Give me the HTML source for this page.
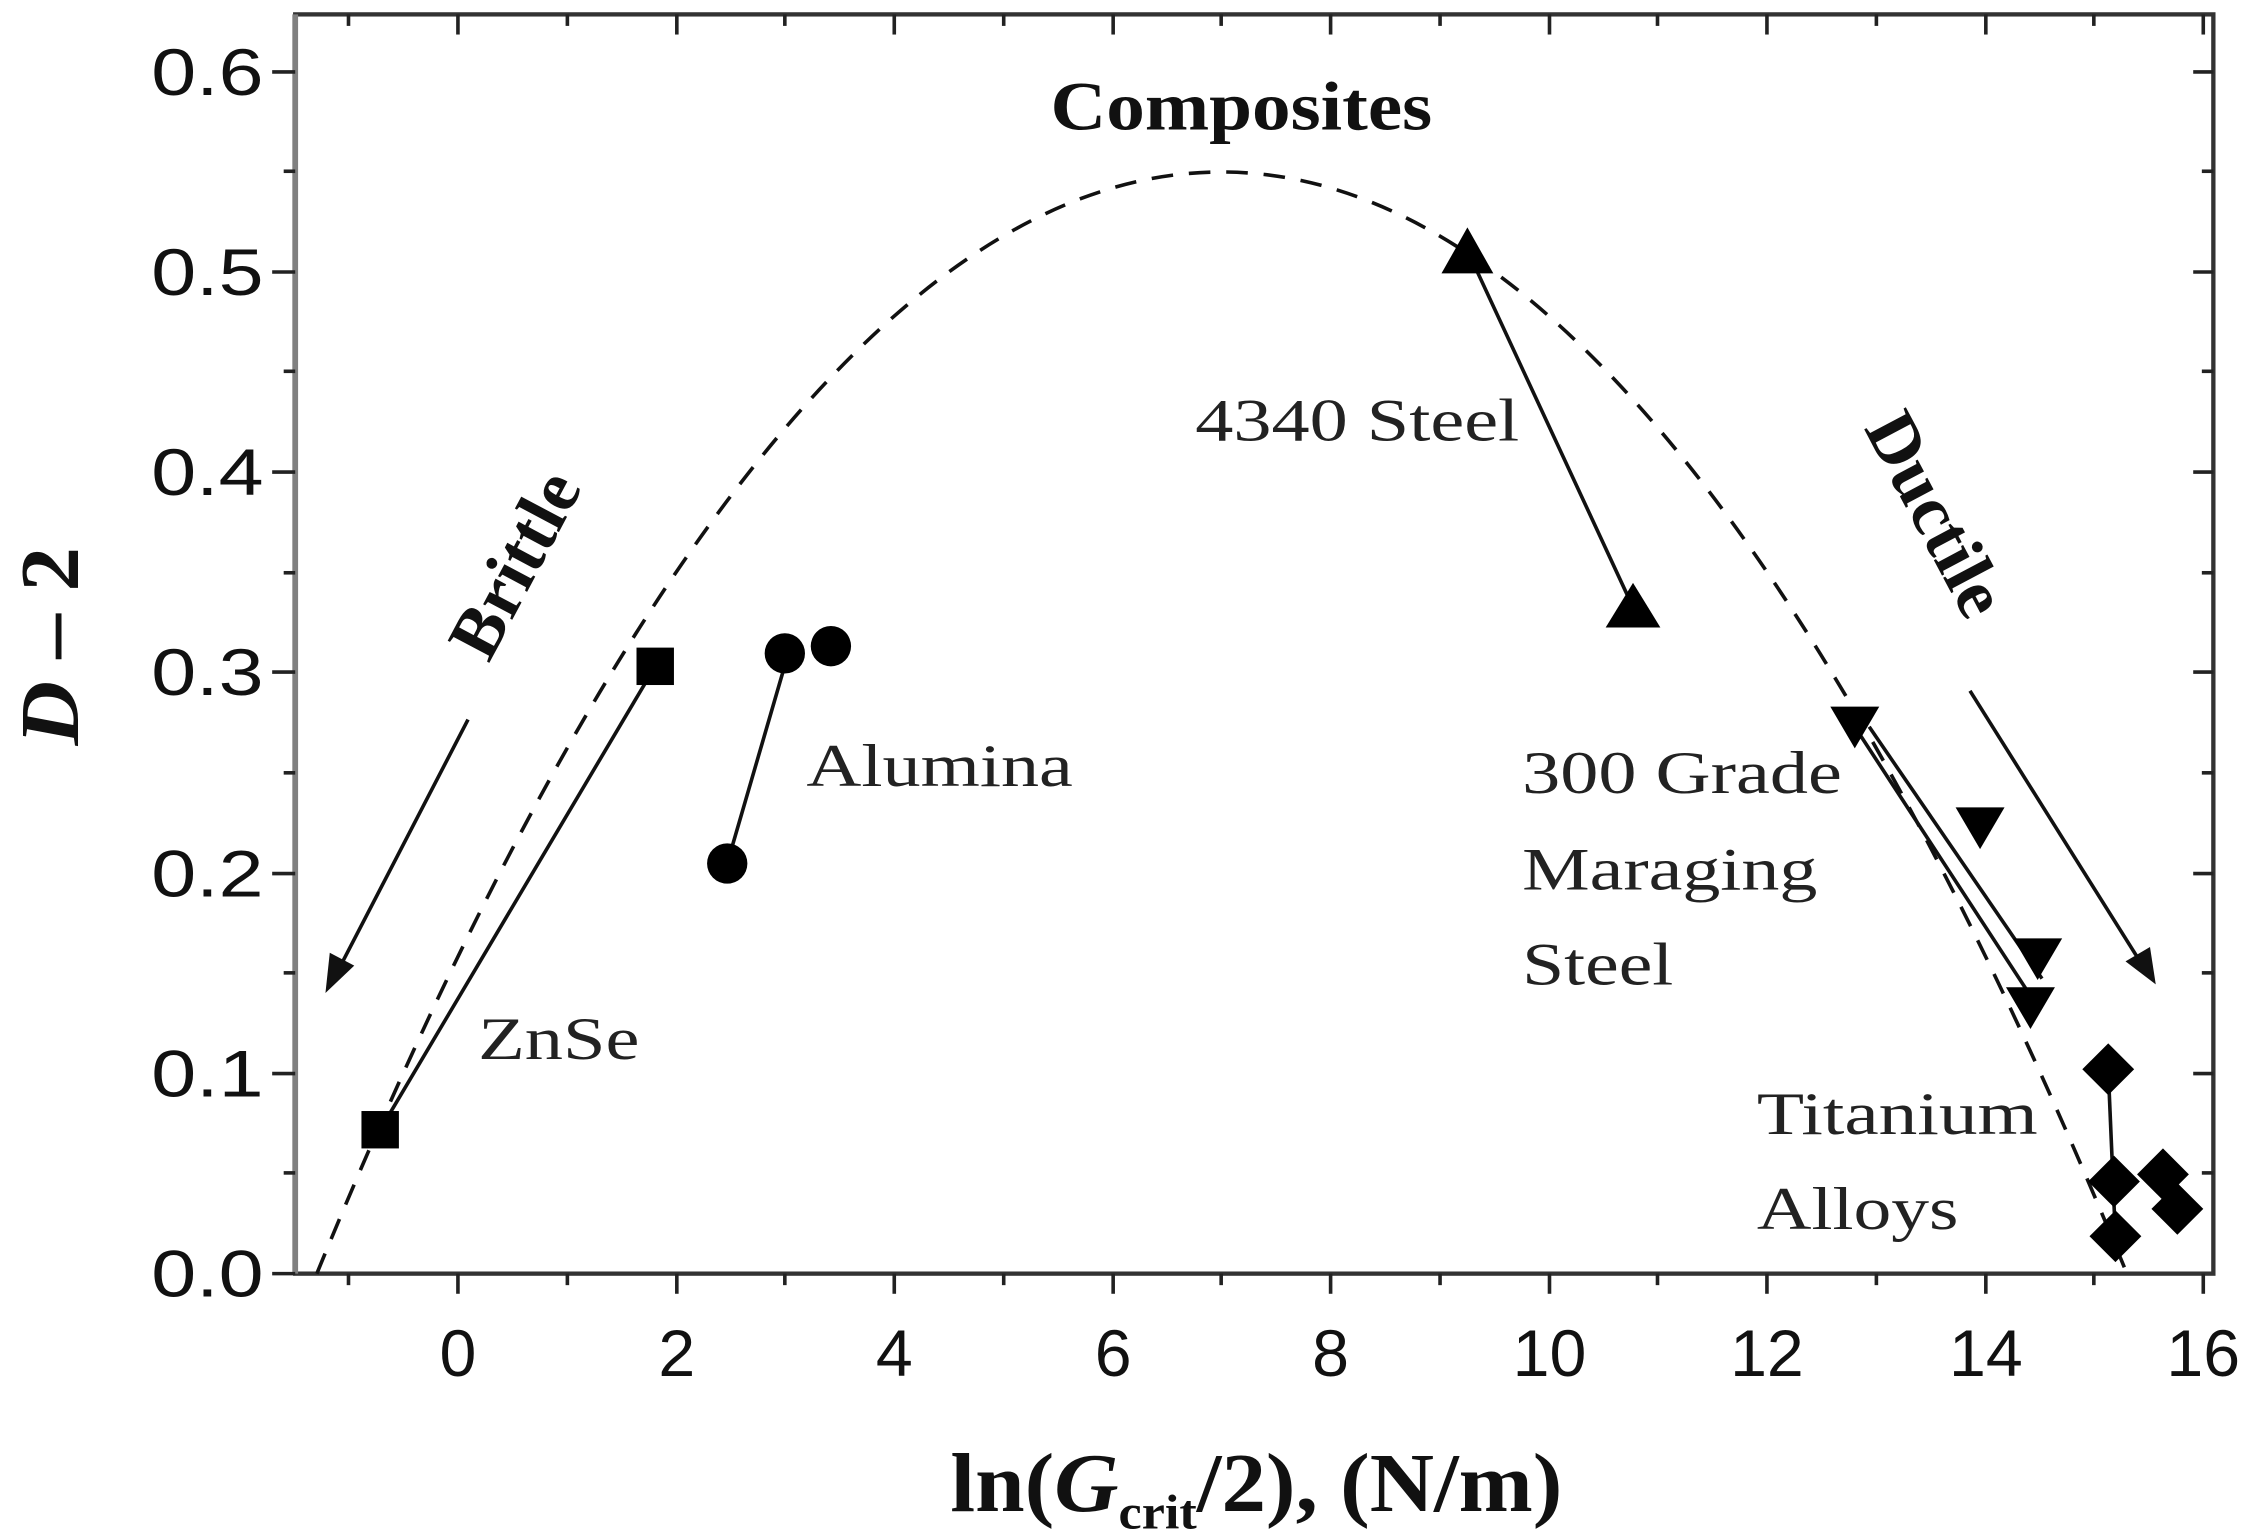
<!DOCTYPE html>
<html><head><meta charset="utf-8"><style>
html,body{margin:0;padding:0;background:#fff;}
svg{display:block;}
</style></head><body>
<svg width="2258" height="1537" viewBox="0 0 1568 1068" preserveAspectRatio="none" xmlns="http://www.w3.org/2000/svg">
<rect width="1568" height="1068" fill="#fff"/>
<rect x="205" y="10" width="1332" height="875" fill="none" stroke="#333" stroke-width="3"/>
<line x1="205" y1="10" x2="205" y2="885" stroke="#808080" stroke-width="4"/>
<g stroke="#222" stroke-width="2.5">
<line x1="318" y1="885" x2="318" y2="899"/><line x1="470" y1="885" x2="470" y2="899"/><line x1="621" y1="885" x2="621" y2="899"/><line x1="773" y1="885" x2="773" y2="899"/><line x1="924" y1="885" x2="924" y2="899"/><line x1="1076" y1="885" x2="1076" y2="899"/><line x1="1227" y1="885" x2="1227" y2="899"/><line x1="1379" y1="885" x2="1379" y2="899"/><line x1="1530" y1="885" x2="1530" y2="899"/>
<line x1="242" y1="885" x2="242" y2="893"/><line x1="394" y1="885" x2="394" y2="893"/><line x1="545" y1="885" x2="545" y2="893"/><line x1="697" y1="885" x2="697" y2="893"/><line x1="848" y1="885" x2="848" y2="893"/><line x1="1000" y1="885" x2="1000" y2="893"/><line x1="1151" y1="885" x2="1151" y2="893"/><line x1="1303" y1="885" x2="1303" y2="893"/><line x1="1454" y1="885" x2="1454" y2="893"/>
<line x1="318" y1="10" x2="318" y2="24"/><line x1="470" y1="10" x2="470" y2="24"/><line x1="621" y1="10" x2="621" y2="24"/><line x1="773" y1="10" x2="773" y2="24"/><line x1="924" y1="10" x2="924" y2="24"/><line x1="1076" y1="10" x2="1076" y2="24"/><line x1="1227" y1="10" x2="1227" y2="24"/><line x1="1379" y1="10" x2="1379" y2="24"/><line x1="1530" y1="10" x2="1530" y2="24"/>
<line x1="242" y1="10" x2="242" y2="18"/><line x1="394" y1="10" x2="394" y2="18"/><line x1="545" y1="10" x2="545" y2="18"/><line x1="697" y1="10" x2="697" y2="18"/><line x1="848" y1="10" x2="848" y2="18"/><line x1="1000" y1="10" x2="1000" y2="18"/><line x1="1151" y1="10" x2="1151" y2="18"/><line x1="1303" y1="10" x2="1303" y2="18"/><line x1="1454" y1="10" x2="1454" y2="18"/>
<line x1="189" y1="885" x2="205" y2="885"/><line x1="189" y1="746" x2="205" y2="746"/><line x1="189" y1="607" x2="205" y2="607"/><line x1="189" y1="467" x2="205" y2="467"/><line x1="189" y1="328" x2="205" y2="328"/><line x1="189" y1="189" x2="205" y2="189"/><line x1="189" y1="50" x2="205" y2="50"/>
<line x1="197" y1="815" x2="205" y2="815"/><line x1="197" y1="676" x2="205" y2="676"/><line x1="197" y1="537" x2="205" y2="537"/><line x1="197" y1="398" x2="205" y2="398"/><line x1="197" y1="258" x2="205" y2="258"/><line x1="197" y1="119" x2="205" y2="119"/>
<line x1="1523" y1="746" x2="1537" y2="746"/><line x1="1523" y1="607" x2="1537" y2="607"/><line x1="1523" y1="467" x2="1537" y2="467"/><line x1="1523" y1="328" x2="1537" y2="328"/><line x1="1523" y1="189" x2="1537" y2="189"/><line x1="1523" y1="50" x2="1537" y2="50"/>
<line x1="1529" y1="815" x2="1537" y2="815"/><line x1="1529" y1="676" x2="1537" y2="676"/><line x1="1529" y1="537" x2="1537" y2="537"/><line x1="1529" y1="398" x2="1537" y2="398"/><line x1="1529" y1="258" x2="1537" y2="258"/><line x1="1529" y1="119" x2="1537" y2="119"/>
</g>
<g font-family="'Liberation Sans', sans-serif" font-size="46" fill="#111" text-anchor="end">
<text x="183" y="901" textLength="78" lengthAdjust="spacingAndGlyphs">0.0</text>
<text x="183" y="762" textLength="78" lengthAdjust="spacingAndGlyphs">0.1</text>
<text x="183" y="623" textLength="78" lengthAdjust="spacingAndGlyphs">0.2</text>
<text x="183" y="483" textLength="78" lengthAdjust="spacingAndGlyphs">0.3</text>
<text x="183" y="344" textLength="78" lengthAdjust="spacingAndGlyphs">0.4</text>
<text x="183" y="205" textLength="78" lengthAdjust="spacingAndGlyphs">0.5</text>
<text x="183" y="66" textLength="78" lengthAdjust="spacingAndGlyphs">0.6</text>
</g>
<g font-family="'Liberation Sans', sans-serif" font-size="46" fill="#111" text-anchor="middle">
<text x="318" y="956">0</text><text x="470" y="956">2</text><text x="621" y="956">4</text><text x="773" y="956">6</text><text x="924" y="956">8</text><text x="1076" y="956">10</text><text x="1227" y="956">12</text><text x="1379" y="956">14</text><text x="1530" y="956">16</text>
</g>
<text x="660" y="1050" font-family="'Liberation Serif', serif" font-weight="bold" font-size="58" fill="#111" textLength="425" lengthAdjust="spacingAndGlyphs">ln(<tspan font-style="italic">G</tspan><tspan font-size="34" dy="12">crit</tspan><tspan dy="-12">/2), (N/m)</tspan></text>
<text transform="translate(54,518) rotate(-90)" font-family="'Liberation Serif', serif" font-weight="bold" font-size="58" fill="#111" textLength="138" lengthAdjust="spacingAndGlyphs"><tspan font-style="italic">D</tspan> – 2</text>
<path d="M220,885 Q848,-646 1477,885" fill="none" stroke="#111" stroke-width="2.5" stroke-dasharray="15,11"/>
<text x="862" y="90" text-anchor="middle" font-family="'Liberation Serif', serif" font-weight="bold" font-size="48" fill="#111" textLength="265" lengthAdjust="spacingAndGlyphs">Composites</text>
<text transform="translate(372,400) rotate(-62)" text-anchor="middle" font-family="'Liberation Serif', serif" font-weight="bold" font-size="50" fill="#111">Brittle</text>
<text transform="translate(1330,365) rotate(62)" text-anchor="middle" font-family="'Liberation Serif', serif" font-weight="bold" font-size="50" fill="#111">Ductile</text>
<g font-family="'Liberation Serif', serif" font-size="42" fill="#222">
<text x="830" y="306" textLength="225" lengthAdjust="spacingAndGlyphs">4340 Steel</text>
<text x="560" y="546" textLength="185" lengthAdjust="spacingAndGlyphs">Alumina</text>
<text x="332" y="736" textLength="112" lengthAdjust="spacingAndGlyphs">ZnSe</text>
<text x="1057" y="551" textLength="222" lengthAdjust="spacingAndGlyphs">300 Grade</text>
<text x="1057" y="618" textLength="205" lengthAdjust="spacingAndGlyphs">Maraging</text>
<text x="1057" y="684" textLength="105" lengthAdjust="spacingAndGlyphs">Steel</text>
<text x="1220" y="788" textLength="195" lengthAdjust="spacingAndGlyphs">Titanium</text>
<text x="1220" y="854" textLength="140" lengthAdjust="spacingAndGlyphs">Alloys</text>
</g>
<g stroke="#111" stroke-width="2.5" fill="#111">
<line x1="325" y1="500" x2="236" y2="672"/>
<polygon points="226,690 229,662 246,671" stroke="none"/>
<line x1="1368" y1="480" x2="1486" y2="668"/>
<polygon points="1497,684 1476,668 1493,658" stroke="none"/>
<line x1="264" y1="785" x2="455" y2="463"/>
<line x1="505" y1="600" x2="548" y2="452"/>
<line x1="1019" y1="174" x2="1134" y2="422"/>
<line x1="1288" y1="505" x2="1412" y2="695"/>
<line x1="1298" y1="505" x2="1418" y2="680"/>
<line x1="1464" y1="743" x2="1469" y2="860"/>
</g>
<g fill="#000">
<rect x="251" y="772" width="26" height="26"/>
<rect x="442" y="450" width="26" height="26"/>
<circle cx="505" cy="600" r="14"/><circle cx="545" cy="454" r="14"/><circle cx="577" cy="449" r="14"/>
<polygon points="1019,158 1037,190 1001,190"/>
<polygon points="1134,405 1153,436 1115,436"/>
<polygon points="1271,491 1305,491 1288,520"/>
<polygon points="1358,561 1392,561 1375,590"/>
<polygon points="1398,652 1432,652 1415,681"/>
<polygon points="1393,686 1427,686 1410,715"/>
<polygon points="1464,725 1482,743 1464,761 1446,743"/>
<polygon points="1468,803 1486,821 1468,839 1450,821"/>
<polygon points="1502,798 1520,816 1502,834 1484,816"/>
<polygon points="1512,822 1530,840 1512,858 1494,840"/>
<polygon points="1469,841 1487,859 1469,877 1451,859"/>
</g>
</svg>
</body></html>
